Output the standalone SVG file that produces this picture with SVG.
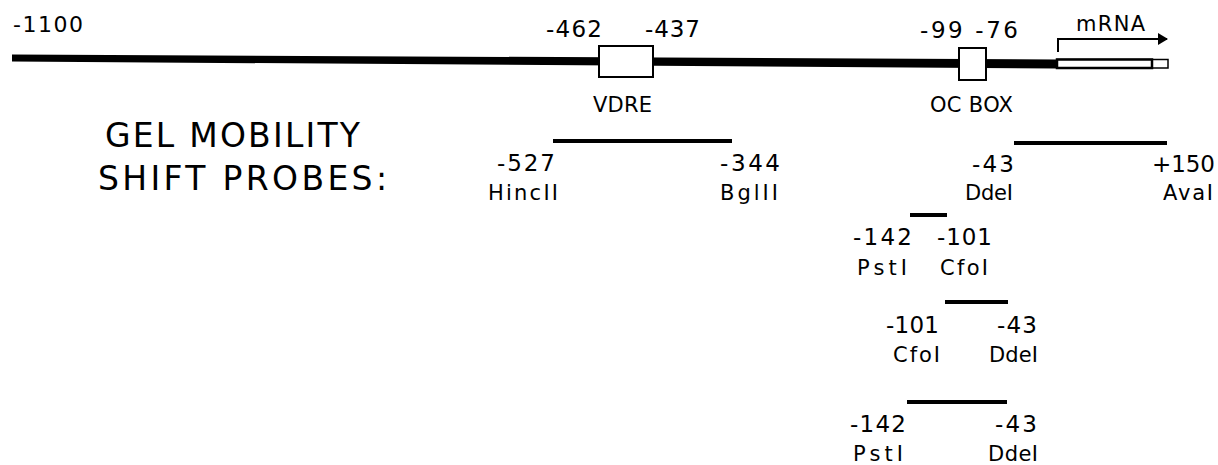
<svg xmlns="http://www.w3.org/2000/svg" width="1218" height="465" viewBox="0 0 1218 465">
<style>
text{font-family:"DejaVu Sans","Liberation Sans",sans-serif;fill:#000;}
.n{font-size:23px;}
.t{font-size:21px;}
.big{font-size:33px;}
.probe{stroke:#000;stroke-width:4;fill:none;}
.box{fill:#fff;stroke:#000;stroke-width:2;}
</style>
<defs>
<marker id="ah" markerWidth="10" markerHeight="12" refX="9" refY="6" orient="auto" markerUnits="userSpaceOnUse">
<path d="M0,0 L10,6 L0,12 Z" fill="#000"/>
</marker>
</defs>
<rect width="1218" height="465" fill="#fff"/>
<g id="gene">
<polygon points="12,54.5 1057,59.5 1057,68.5 12,61.5" fill="#000"/>
<rect x="1057" y="59.5" width="111" height="8.5" fill="#fff" stroke="#000" stroke-width="1.5"/>
<rect x="1057" y="59.5" width="95" height="8.5" fill="#fff" stroke="#000" stroke-width="2.5"/>
<text class="n" x="13" y="32" style="font-size:22px" textLength="70" lengthAdjust="spacing">-1100</text>
</g>
<g id="vdre">
<rect class="box" x="599" y="46" width="54" height="31"/>
<text class="n" x="546" y="37" textLength="56" lengthAdjust="spacing">-462</text>
<text class="n" x="645" y="37" textLength="55" lengthAdjust="spacing">-437</text>
<text class="t" x="593" y="112" textLength="59" lengthAdjust="spacing">VDRE</text>
</g>
<g id="ocbox">
<rect class="box" x="959" y="48" width="27" height="32"/>
<text class="n" x="920" y="38" textLength="98" lengthAdjust="spacing">-99 -76</text>
<text class="t" x="930" y="112" textLength="83" lengthAdjust="spacing">OC BOX</text>
</g>
<g id="mrna">
<text class="t" x="1076" y="31" textLength="69" lengthAdjust="spacing">mRNA</text>
</g>
<g id="title">
<text class="big" x="105" y="147" textLength="255" lengthAdjust="spacing">GEL MOBILITY</text>
<text class="big" x="98" y="190" textLength="289" lengthAdjust="spacing">SHIFT PROBES:</text>
</g>
<g id="probe1">
<text class="n" x="497" y="171" textLength="58" lengthAdjust="spacing">-527</text>
<text class="n" x="720" y="171" textLength="60" lengthAdjust="spacing">-344</text>
<text class="t" x="488" y="200" textLength="70" lengthAdjust="spacing">HincII</text>
<text class="t" x="720" y="200" textLength="58" lengthAdjust="spacing">BglII</text>
</g>
<g id="probe2">
<text class="n" x="972" y="172" textLength="42" lengthAdjust="spacing">-43</text>
<text class="n" x="1152" y="172" textLength="63" lengthAdjust="spacing">+150</text>
<text class="t" x="965" y="200" textLength="48" lengthAdjust="spacing">DdeI</text>
<text class="t" x="1163" y="200" textLength="50" lengthAdjust="spacing">AvaI</text>
</g>
<g id="probe3">
<text class="n" x="853" y="245" textLength="59" lengthAdjust="spacing">-142</text>
<text class="n" x="937" y="245" textLength="55" lengthAdjust="spacing">-101</text>
<text class="t" x="857" y="275" textLength="50" lengthAdjust="spacing">PstI</text>
<text class="t" x="940" y="275" textLength="48" lengthAdjust="spacing">CfoI</text>
</g>
<g id="probe4">
<text class="n" x="886" y="333" textLength="53" lengthAdjust="spacing">-101</text>
<text class="n" x="997" y="333" textLength="40" lengthAdjust="spacing">-43</text>
<text class="t" x="893" y="362" textLength="47" lengthAdjust="spacing">CfoI</text>
<text class="t" x="989" y="362" textLength="49" lengthAdjust="spacing">DdeI</text>
</g>
<g id="probe5">
<text class="n" x="850" y="432" textLength="56" lengthAdjust="spacing">-142</text>
<text class="n" x="995" y="432" textLength="42" lengthAdjust="spacing">-43</text>
<text class="t" x="853" y="461" textLength="50" lengthAdjust="spacing">PstI</text>
<text class="t" x="988" y="461" textLength="50" lengthAdjust="spacing">DdeI</text>
</g>
<g id="connectors">
<path d="M1058,52 V39 H1167" fill="none" stroke="#000" stroke-width="2" marker-end="url(#ah)"/>
<line class="probe" x1="553" y1="141" x2="732" y2="141"/>
<line class="probe" x1="1014" y1="143" x2="1167" y2="143"/>
<line class="probe" x1="910" y1="215" x2="947" y2="215"/>
<line class="probe" x1="945" y1="302" x2="1008" y2="302"/>
<line class="probe" x1="907" y1="402" x2="1007" y2="402"/>
</g>
</svg>
